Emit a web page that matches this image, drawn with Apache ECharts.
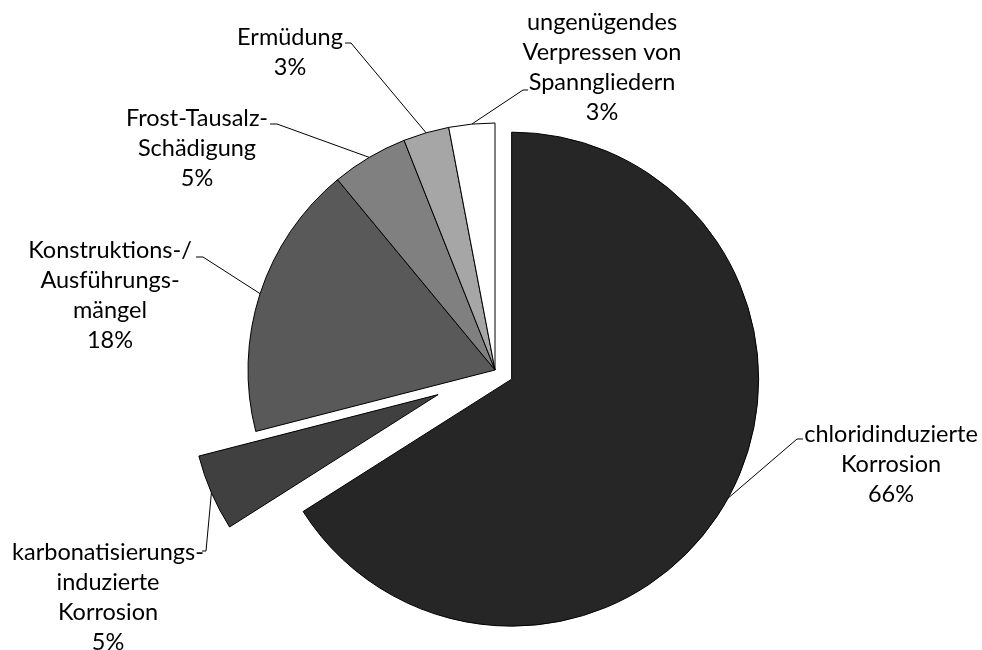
<!DOCTYPE html>
<html>
<head>
<meta charset="utf-8">
<script src="https://cdn.jsdelivr.net/npm/echarts@6/dist/echarts.min.js"></script>
<style>
  html, body { margin: 0; padding: 0; background: #fff; }
  #chart { width: 982px; height: 650px; }
</style>
</head>
<body>
<div id="chart"></div>
<script>
// Schadensursachen – Anteile in Prozent
const categories = [
  'chloridinduzierte\nKorrosion',
  'karbonatisierungs-\ninduzierte\nKorrosion',
  'Konstruktions-/\nAusführungs-\nmängel',
  'Frost-Tausalz-\nSchädigung',
  'Ermüdung',
  'ungenügendes\nVerpressen von\nSpanngliedern'
];
const shares = [66, 5, 18, 5, 3, 3];

// Styling and layout
const sliceColors = ['#262626', '#404040', '#595959', '#808080', '#a6a6a6', '#ffffff'];
const explode = [19, 62, 0, 0, 0, 0];          // radial offset of pulled-out slices (px)
const CX = 495, CY = 370, R = 247;
const labelCenters = [[891, 464], [108, 597], [110, 295], [197, 148], [290, 52], [602, 67]];
const labelElbows  = [[797, 439], [206, 551], [203, 257], [277, 124], [351, 43], [523, 90]];
const labelEnds    = [[803, 439], [202, 551], [196, 257], [270, 124], [345, 43], [528, 90]];

const total = shares.reduce((a, b) => a + b, 0);

// mid angle of slice i, clockwise from 12 o'clock (radians)
function midAngle(i) {
  const before = shares.slice(0, i).reduce((a, b) => a + b, 0);
  return (before + shares[i] / 2) / total * Math.PI * 2;
}

// centre of the pie that slice i is drawn from (moved outwards when exploded)
function sliceCenter(i) {
  const a = midAngle(i);
  return [CX + explode[i] * Math.sin(a), CY - explode[i] * Math.cos(a)];
}

// point on the outer arc in the middle of slice i
function arcMid(i) {
  const a = midAngle(i);
  const c = sliceCenter(i);
  return [c[0] + R * Math.sin(a), c[1] - R * Math.cos(a)];
}

// one pie layer: every slice takes its share, only the slices in `drawn` are visible
function pieSeries(drawn, center) {
  return {
    type: 'pie',
    center: center,
    radius: R,
    startAngle: 90,
    clockwise: true,
    avoidLabelOverlap: false,
    animation: false,
    silent: true,
    emphasis: { disabled: true },
    label: {
      position: 'outside',
      fontFamily: 'Lato',
      fontSize: 23.5,
      lineHeight: 30,
      color: '#000',
      align: 'center',
      formatter: p => p.name + '\n' + p.value + '%'
    },
    labelLine: { show: true, lineStyle: { color: '#000', width: 1 }, smooth: false },
    labelLayout: p => ({
      x: labelCenters[p.dataIndex][0],
      y: labelCenters[p.dataIndex][1],
      align: 'center',
      verticalAlign: 'middle',
      labelLinePoints: [arcMid(p.dataIndex), labelElbows[p.dataIndex], labelEnds[p.dataIndex]]
    }),
    data: shares.map((v, i) => {
      const on = drawn.includes(i);
      return {
        name: categories[i],
        value: v,
        itemStyle: on
          ? { color: sliceColors[i], borderColor: '#000', borderWidth: 1 }
          : { color: 'rgba(0,0,0,0)', borderWidth: 0 },
        label: { show: on },
        labelLine: { show: on }
      };
    })
  };
}

const inPlace = shares.map((_, i) => i).filter(i => explode[i] === 0);
const pulled = shares.map((_, i) => i).filter(i => explode[i] > 0);

const chart = echarts.init(document.getElementById('chart'), null, { renderer: 'canvas' });
chart.setOption({
  backgroundColor: '#fff',
  animation: false,
  series: [pieSeries(inPlace, [CX, CY])].concat(pulled.map(i => pieSeries([i], sliceCenter(i))))
});
</script>
</body>
</html>
